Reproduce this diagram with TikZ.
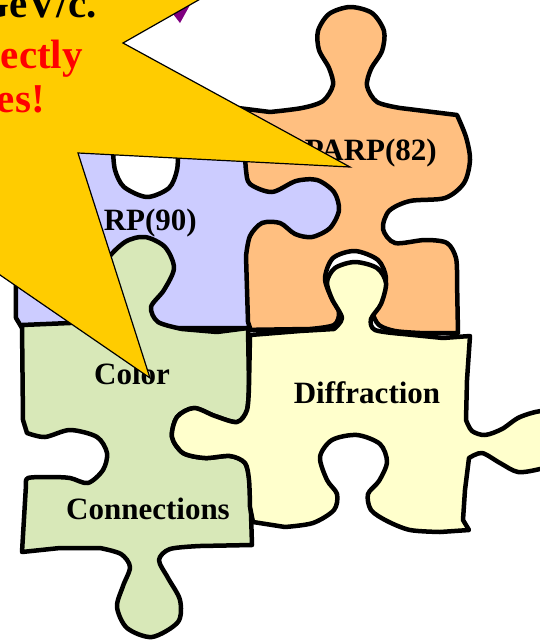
\documentclass[tikz,border=0pt]{standalone}
\usepackage{fontspec}
\setmainfont{Liberation Serif}
\usepackage{tikz}

\definecolor{starfill}{RGB}{255,204,0}
\definecolor{lilac}{RGB}{204,204,255}
\definecolor{apricot}{RGB}{255,191,128}
\definecolor{sage}{RGB}{216,232,184}
\definecolor{cream}{RGB}{255,255,204}
\definecolor{plum}{RGB}{128,0,128}

\begin{document}
\begin{tikzpicture}[
    x=1pt, y=-1pt,
    font=\bfseries,
    piece/.style={
		draw=black,
		line width=4.5pt,
		line join=round
	},
	tag/.style={
		inner sep=0pt,
		font=\bfseries\fontsize{31}{36}\selectfont
	},
	shout/.style={
		inner sep=0pt,
		anchor=base east,
		font=\bfseries\fontsize{41}{48}\selectfont
	}
  ]
  \useasboundingbox (0,0) rectangle (540,643);
  \clip (0,0) rectangle (540,643);

  % We start with the puzzle pieces, back to front

  % orange piece
  \draw [piece, fill=apricot] (238,108) -- (270,112)
    -- plot [smooth] coordinates {(270,112) (302,108) (323,101) (333,85) (329,68) (319,50) (318,31) (329,14) (350,7) (372,13) (384,31) (382,51) (371,69) (367,86) (377,102) (400,108)}
    -- (457,115)
    -- plot [smooth] coordinates {(457,115) (466,137) (470,160) (464,183) (445,198) (410,201) (389,211) (383,229) (395,243) (425,240) (447,243) (456,258) (457,280)}
    -- (458,333) -- (420,333)
    -- plot [smooth] coordinates {(420,333) (395,331) (379,325) (373,312) (381,297) (386,278) (378,260) (355,251) (333,258) (325,278) (331,297) (339,312) (334,325) (310,329)}
    -- (238,330) -- cycle;

  % purple piece
  \draw [piece, fill=lilac] (15,150) -- (113,150)
    -- plot [smooth] coordinates {(113,150) (115,170) (124,187) (147,197) (169,188) (177,170) (178,150)}
    -- (245,152)
    -- plot [smooth] coordinates {(245,152) (246,170) (250,184) (272,192) (296,181) (317,180) (334,192) (339,210) (330,228) (312,237) (295,234) (280,223) (262,223) (250,236) (246,256)}
    -- (248,322) -- (250,328) -- (22,328) -- (16,318) -- cycle;

  % green piece
  \draw [piece, fill=sage] (22,325) -- (70,323) -- (104,318)
    -- plot [smooth] coordinates {(104,318) (112,306) (104,290) (106,262) (125,242) (145,237) (165,247) (174,268) (164,290) (151,307) (158,322) (182,329)}
    -- (217,332) -- (248,328) -- (249,385)
    -- plot [smooth] coordinates {(249,385) (247,410) (237,422) (215,416) (194,408) (177,417) (172,437) (183,453) (205,458) (230,456) (245,463) (250,482)}
    -- (252,545) -- (200,546)
    -- plot [smooth] coordinates {(200,546) (170,549) (159,560) (168,578) (180,600) (178,622) (152,637) (127,628) (117,607) (123,586) (130,567) (121,554) (100,548)}
    -- (60,548) -- (22,552) -- (26,485)
    -- plot [smooth] coordinates {(26,485) (28,478) (50,477) (70,478) (88,483) (103,470) (107,453) (97,437) (70,430) (45,437) (27,433)}
    -- (23,420) -- cycle;

  % yellow piece
  \draw [piece, fill=cream] (250,335) -- (300,331) -- (334,329)
    -- plot [smooth] coordinates {(334,329) (342,318) (332,299) (327,282) (335,268) (355,262) (377,268) (386,283) (381,304) (371,319) (375,330) (403,334)}
    -- (443,338) -- (470,336) -- (467,380) -- (466,420)
    -- plot [smooth] coordinates {(466,420) (472,431) (485,435) (502,429) (520,417) (545,411) (568,422) (574,442) (562,462) (540,469) (518,472) (500,463) (482,453) (469,458)}
    -- (465,490) -- (463,520) -- (469,530) -- (440,532)
    -- plot [smooth] coordinates {(440,532) (410,530) (387,521) (371,510) (368,494) (379,481) (387,462) (380,444) (357,435) (332,440) (320,457) (327,480) (337,494) (334,510) (313,523) (285,527)}
    -- (253,522) -- (250,507)
    -- plot [smooth] coordinates {(250,507) (249,480) (245,463) (230,456) (205,458) (183,453) (172,437) (177,417) (194,408) (215,416) (237,422) (247,410) (249,385)}
    -- cycle;

  % labels on the pieces
  \node [tag, anchor=base east] (parp82) at (437,160) {PARP(82)};
  \node [tag, anchor=base east] (parp90) at (197,230) {RP(90)};
  \node [tag, anchor=base] (color) at (132,384) {Color};
  \node [tag, anchor=base] (connections) at (148,519) {Connections};
  \node [tag, anchor=base] (diffraction) at (367,403) {Diffraction};

  % the burst on top
  \fill [plum] (170,10) -- (190,5) -- (180,23) -- cycle;
  \draw [line width=1.2pt, fill=starfill] (-80,220) -- (150,378) -- (78,153) -- (350,167) -- (123,43) -- (260,-35) -- (-80,-80) -- cycle;

  \node [shout, text=black] (gev) at (97,17) {GeV/c.};
  \node [shout, text=red] (ectly) at (83,68) {ectly};
  \node [shout, text=red] (es) at (45,112) {es!};

\end{tikzpicture}
\end{document}
